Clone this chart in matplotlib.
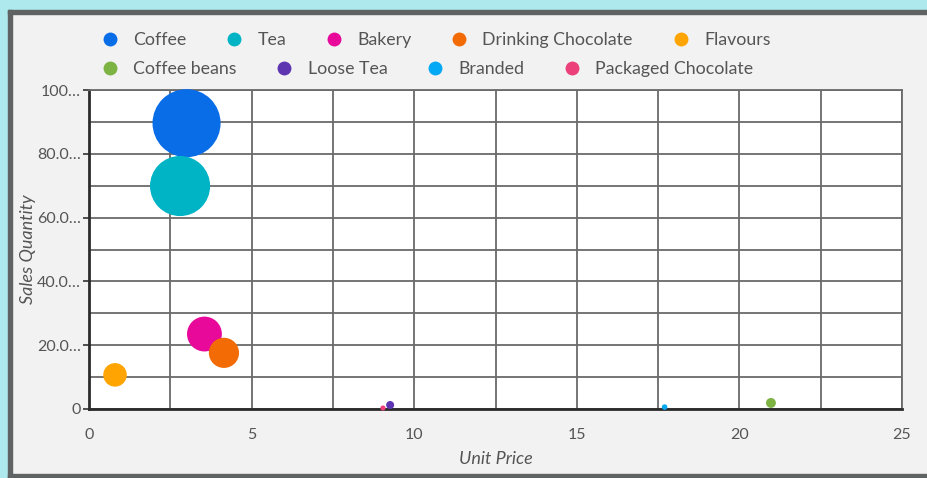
import matplotlib.pyplot as plt
from matplotlib.patches import Rectangle
from matplotlib.lines import Line2D

# data
categories = ["Coffee", "Tea", "Bakery", "Drinking Chocolate", "Flavours",
              "Coffee beans", "Loose Tea", "Branded", "Packaged Chocolate"]
unit_price = [3.0, 2.8, 3.55, 4.15, 0.8, 20.97, 9.26, 17.7, 9.04]
sales_qty = [89.6, 69.9, 23.5, 17.6, 10.7, 1.9, 1.25, 0.6, 0.3]
colors = ["#0a6de8", "#00b4c6", "#e8089a", "#f26b05", "#ffa400",
          "#7cb342", "#5e35b1", "#03a9f4", "#ec407a"]

x_ticks = [0, 5, 10, 15, 20, 25]
y_ticks = [0, 20, 40, 60, 80, 100]
y_tick_labels = ["0", "20.0…", "40.0…", "60.0…", "80.0…", "100…"]

plt.rcParams["font.family"] = ["Lato", "DejaVu Sans"]
text_col = "#555555"

W, H = 927, 478
fig = plt.figure(figsize=(W / 100, H / 100), dpi=100, facecolor="#f2f2f2")

# outer frame: cyan strips on top/left, dark grey border lines
def px_rect(x0, y0, w, h, color):
    fig.patches.append(Rectangle((x0 / W, 1 - (y0 + h) / H), w / W, h / H,
                                 transform=fig.transFigure, color=color,
                                 zorder=0))

px_rect(0, 0, W, 10, "#aee9ee")
px_rect(0, 0, 8, H, "#aee9ee")
px_rect(8, 10, W - 8, 4, "#5f6363")
px_rect(8, 10, 4, H - 10, "#5f6363")
px_rect(8, 474, W - 8, 4, "#5f6363")

ax = fig.add_axes([89 / W, 1 - 409 / H, (902 - 89) / W, (409 - 90) / H])
ax.set_facecolor("white")

# bubble area proportional to sales quantity (small floor so tiny ones show)
k = 26.8
for name, x, y, c in zip(categories, unit_price, sales_qty, colors):
    ax.scatter(x, y, s=max(y * k, 14), color=c, edgecolors="none", zorder=3,
               clip_on=False)

ax.set_xlim(0, 25)
ax.set_ylim(0, 100)
ax.set_xticks(x_ticks)
ax.set_xticks([2.5, 7.5, 12.5, 17.5, 22.5], minor=True)
ax.set_yticks(y_ticks)
ax.set_yticks([10, 30, 50, 70, 90], minor=True)
ax.set_yticklabels(y_tick_labels)
ax.grid(True, which="both", color="#6a6a6a", linewidth=1.3, zorder=1)
ax.set_axisbelow(True)
ax.tick_params(axis="x", which="both", length=0, pad=14, labelsize=11.5,
               labelcolor=text_col)
ax.tick_params(axis="y", which="major", length=4, width=1.2, color="#333333",
               pad=2, labelsize=11.5, labelcolor=text_col)
ax.tick_params(axis="y", which="minor", length=0)

for side in ["left", "bottom"]:
    ax.spines[side].set_color("#2b2b2b")
    ax.spines[side].set_linewidth(2)
for side in ["top", "right"]:
    ax.spines[side].set_color("#6a6a6a")
    ax.spines[side].set_linewidth(1.3)

ax.set_xlabel("Unit Price", fontsize=13, style="italic", color=text_col,
              labelpad=6)
ax.set_ylabel("Sales Quantity", fontsize=13, style="italic", color=text_col)
ax.yaxis.set_label_coords((36 - 89) / 813, 0.5)

# legend in two rows, flowing left to right
def legend_row(idx, ypos):
    handles = [Line2D([], [], marker="o", linestyle="none", markersize=10,
                      markerfacecolor=colors[i], markeredgecolor="none")
               for i in idx]
    leg = fig.legend(handles, [categories[i] for i in idx], ncol=len(idx),
                     loc="center left", bbox_to_anchor=(92 / W, 1 - ypos / H),
                     frameon=False, fontsize=12.8, handletextpad=0.7,
                     columnspacing=2.1, handlelength=1.2, borderaxespad=0)
    for t in leg.get_texts():
        t.set_color(text_col)
    return leg

legend_row([0, 1, 2, 3, 4], 40)
legend_row([5, 6, 7, 8], 69)

fig.savefig("out.png", dpi=100, facecolor=fig.get_facecolor())
